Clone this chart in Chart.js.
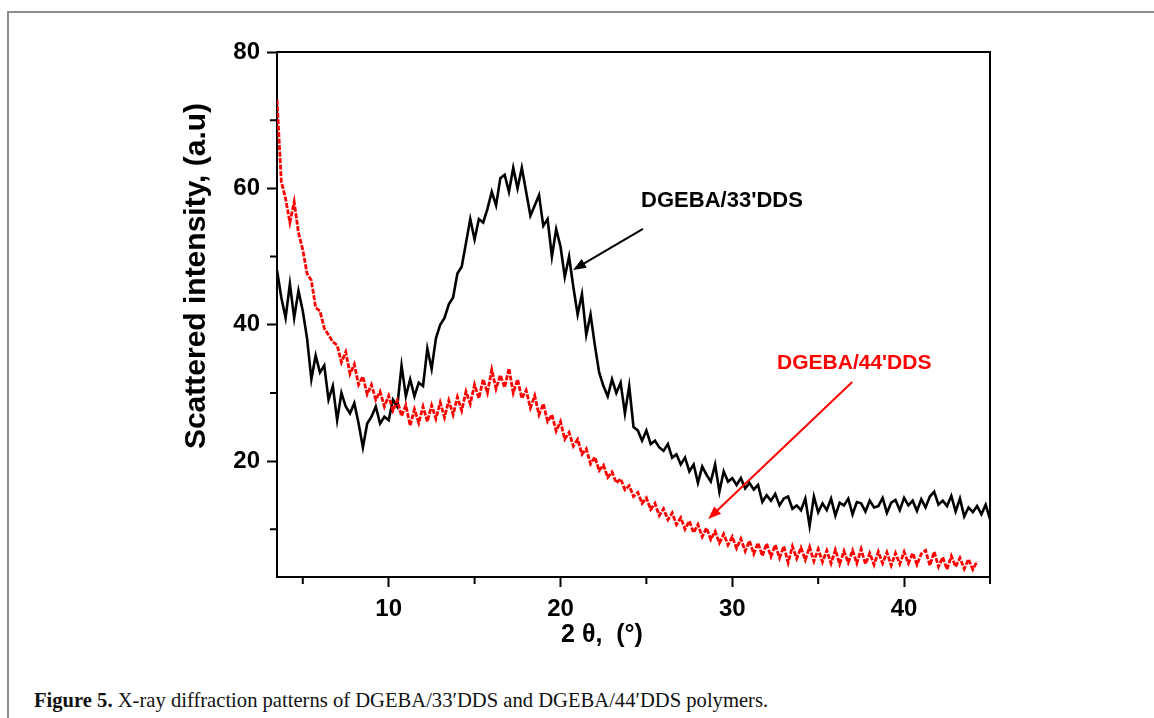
<!DOCTYPE html>
<html>
<head>
<meta charset="utf-8">
<title>XRD DGEBA/DDS</title>
<script src="https://cdn.jsdelivr.net/npm/chart.js@4.4.1/dist/chart.umd.min.js"></script>
<style>
  html, body { margin: 0; padding: 0; background: #fff; }
  body { width: 1154px; height: 718px; position: relative; overflow: hidden; }
  #frame { position: absolute; left: 7px; top: 11px; width: 1160px; height: 720px;
           border-left: 2px solid #8c8c8c; border-top: 2px solid #8c8c8c; }
  #wrap { position: absolute; left: 0; top: 0; width: 1154px; height: 660px; }
  #caption { position: absolute; left: 34px; top: 690px; font-family: "Liberation Serif", "DejaVu Serif", serif;
             font-size: 20.6px; line-height: 20px; color: #111; white-space: nowrap; }
  #caption b { font-weight: bold; }
</style>
</head>
<body>
<div id="frame"></div>
<div id="wrap"><canvas id="xrdChart" width="1154" height="660"></canvas></div>
<div id="caption"><b>Figure 5.</b> X-ray diffraction patterns of DGEBA/33′DDS and DGEBA/44′DDS polymers.</div>
<script>
// 2θ grid (degrees)
const angles = [
  3.5, 3.75, 4, 4.25, 4.5, 4.75, 5, 5.25,
  5.5, 5.75, 6, 6.25, 6.5, 6.75, 7, 7.25,
  7.5, 7.75, 8, 8.25, 8.5, 8.75, 9, 9.25,
  9.5, 9.75, 10, 10.25, 10.5, 10.75, 11, 11.25,
  11.5, 11.75, 12, 12.25, 12.5, 12.75, 13, 13.25,
  13.5, 13.75, 14, 14.25, 14.5, 14.75, 15, 15.25,
  15.5, 15.75, 16, 16.25, 16.5, 16.75, 17, 17.25,
  17.5, 17.75, 18, 18.25, 18.5, 18.75, 19, 19.25,
  19.5, 19.75, 20, 20.25, 20.5, 20.75, 21, 21.25,
  21.5, 21.75, 22, 22.25, 22.5, 22.75, 23, 23.25,
  23.5, 23.75, 24, 24.25, 24.5, 24.75, 25, 25.25,
  25.5, 25.75, 26, 26.25, 26.5, 26.75, 27, 27.25,
  27.5, 27.75, 28, 28.25, 28.5, 28.75, 29, 29.25,
  29.5, 29.75, 30, 30.25, 30.5, 30.75, 31, 31.25,
  31.5, 31.75, 32, 32.25, 32.5, 32.75, 33, 33.25,
  33.5, 33.75, 34, 34.25, 34.5, 34.75, 35, 35.25,
  35.5, 35.75, 36, 36.25, 36.5, 36.75, 37, 37.25,
  37.5, 37.75, 38, 38.25, 38.5, 38.75, 39, 39.25,
  39.5, 39.75, 40, 40.25, 40.5, 40.75, 41, 41.25,
  41.5, 41.75, 42, 42.25, 42.5, 42.75, 43, 43.25,
  43.5, 43.75, 44, 44.25, 44.5, 44.75, 45
];

// DGEBA/33'DDS scattered intensity (a.u)
const intensity33 = [
  48, 44, 41, 46, 41, 45, 42, 38,
  32, 35.5, 33, 34, 29, 31, 26, 30,
  28, 27, 28.5, 25.5, 22, 25.5, 26.5, 28,
  25.5, 26.5, 26, 29, 28, 34, 29.5, 32,
  29.5, 31.5, 31, 36.5, 33.5, 38, 40, 41,
  43, 44, 47.5, 48.5, 52, 55.5, 52.5, 55.5,
  55, 57, 59.5, 57.5, 61.5, 62, 59.5, 63,
  60, 63, 59.5, 56, 57.5, 59, 54.5, 55.5,
  50, 54, 51.5, 47, 50, 45.5, 41.5, 44.5,
  38.5, 41.5, 37, 33, 31, 29.5, 32, 30,
  31.5, 27, 31, 25, 24.5, 23, 24.5, 22.5,
  23, 22, 21.5, 22.5, 20.5, 21, 19.5, 20.5,
  18.5, 19.5, 16.8, 19.2, 18, 17, 19.5, 15.5,
  18.5, 17, 17.5, 16.5, 17.5, 16, 16.8, 15.8,
  16.5, 14, 15, 14.2, 15.2, 13.5, 14.5, 14.8,
  13, 13.5, 12.8, 14.5, 10.5, 14.8, 12.5, 13.8,
  12.8, 14.5, 12, 13.9, 13.5, 14.5, 12.2, 14,
  13.8, 12.6, 14.2, 13.2, 13.4, 14.6, 12.4, 13.9,
  14.3, 12.8, 14.6, 13.5, 14.2, 12.7, 14.4, 13.2,
  14.8, 15.5, 13.6, 14.2, 13.4, 14.9, 12.6, 14.5,
  11.9, 13.2, 12.5, 13.4, 12.2, 13.6, 11.5
];

// DGEBA/44'DDS scattered intensity (a.u)
const intensity44 = [
  73, 61, 58.5, 55, 58, 53.5, 51, 47.5,
  46.5, 42.5, 42, 39.5, 38.5, 37.5, 37, 34.5,
  36, 32.8, 34.2, 31.2, 32.4, 29.8, 31.2, 29,
  30.2, 28, 29.6, 27.4, 28.9, 26.6, 28.2, 25.2,
  27.6, 25.6, 28, 25.8, 28.2, 26.2, 28.6, 26.4,
  28.9, 26.8, 29.4, 27.4, 30.2, 28.4, 31.2, 29.2,
  32, 30, 33.4, 30.6, 32.6, 30.8, 33.6, 30,
  32, 29.2, 30.4, 27.8, 29.6, 26.8, 28.4, 25.8,
  26.8, 24.4, 25.8, 23.2, 24.2, 22.2, 23.2, 21,
  21.8, 19.6, 20.6, 18.6, 19.4, 17.6, 18.4, 16.8,
  17.4, 15.8, 16.4, 14.8, 15.4, 13.8, 14.6, 12.9,
  13.8, 12, 13, 11.4, 12.4, 10.7, 11.7, 10,
  11.2, 9.5, 10.7, 8.9, 10.2, 8.5, 9.7, 8,
  9.3, 7.7, 8.9, 7.2, 8.6, 6.8, 8.3, 6.4,
  8, 6.1, 7.9, 6, 7.7, 5.8, 7.5, 5.1,
  7.5, 5.7, 7.3, 5.5, 7.4, 5.3, 7.1, 5.2,
  6.9, 5, 7, 4.9, 6.8, 5.1, 6.9, 5,
  7.1, 4.9, 6.5, 4.8, 6.7, 5, 6.6, 4.7,
  6.5, 4.9, 6.7, 5, 6.5, 4.8, 6.4, 6.9,
  4.7, 6.7, 4.5, 5.9, 4.1, 6.1, 4.5, 5.8,
  4.2, 5.6, 4.1, 5.3, null, null, null
];

const xTickLabels = [10, 20, 30, 40];
const yTickLabels = [20, 40, 60, 80];

const tickFont = { family: 'Liberation Sans, Arial, sans-serif', size: 24, weight: 'bold' };

// Frame, minor ticks, axis titles and arrow labels
const decorations = {
    id: 'decorations',
    afterDraw(chart) {
        const { ctx, chartArea: a, scales: { x, y } } = chart;
        ctx.save();
        ctx.strokeStyle = '#000';
        ctx.lineWidth = 2;
        ctx.beginPath();
        ctx.moveTo(a.left, a.top);
        ctx.lineTo(a.right, a.top);
        ctx.lineTo(a.right, a.bottom);
        ctx.stroke();

        // minor ticks
        ctx.beginPath();
        x.ticks.forEach(t => {
            if (xTickLabels.includes(t.value)) return;
            const px = x.getPixelForValue(t.value);
            ctx.moveTo(px, a.bottom);
            ctx.lineTo(px, a.bottom + 7);
        });
        y.ticks.forEach(t => {
            if (yTickLabels.includes(t.value)) return;
            const py = y.getPixelForValue(t.value);
            ctx.moveTo(a.left, py);
            ctx.lineTo(a.left - 7, py);
        });
        ctx.stroke();

        // axis titles
        ctx.fillStyle = '#000';
        ctx.font = 'bold 30px "Liberation Sans", Arial, sans-serif';
        ctx.textAlign = 'center';
        ctx.textBaseline = 'alphabetic';
        ctx.save();
        ctx.translate(205, 276);
        ctx.rotate(-Math.PI / 2);
        ctx.fillText('Scattered intensity, (a.u)', 0, 0);
        ctx.restore();

        ctx.font = 'bold 25px "Liberation Sans", Arial, sans-serif';
        ctx.textBaseline = 'middle';
        ctx.fillText('2 \u03b8,  (\u00b0)', 602, 635);

        // arrow labels, placed in data coordinates
        const arrow = (x0, y0, x1, y1, color) => {
            const sx = x.getPixelForValue(x0), sy = y.getPixelForValue(y0);
            const ex = x.getPixelForValue(x1), ey = y.getPixelForValue(y1);
            const ang = Math.atan2(ey - sy, ex - sx);
            ctx.strokeStyle = color;
            ctx.fillStyle = color;
            ctx.lineWidth = 2;
            ctx.beginPath();
            ctx.moveTo(sx, sy);
            ctx.lineTo(ex - 8 * Math.cos(ang), ey - 8 * Math.sin(ang));
            ctx.stroke();
            ctx.beginPath();
            ctx.moveTo(ex, ey);
            ctx.lineTo(ex - 13 * Math.cos(ang) + 5 * Math.sin(ang), ey - 13 * Math.sin(ang) - 5 * Math.cos(ang));
            ctx.lineTo(ex - 13 * Math.cos(ang) - 5 * Math.sin(ang), ey - 13 * Math.sin(ang) + 5 * Math.cos(ang));
            ctx.closePath();
            ctx.fill();
        };

        ctx.textBaseline = 'middle';
        ctx.fillStyle = '#000';
        ctx.font = 'bold 22px "Liberation Sans", Arial, sans-serif';
        ctx.fillText("DGEBA/33'DDS", x.getPixelForValue(29.4), y.getPixelForValue(58.2));
        arrow(24.8, 54.05, 20.73, 48.04, '#000');

        ctx.fillStyle = '#f00';
        ctx.font = 'bold 21px "Liberation Sans", Arial, sans-serif';
        ctx.fillText("DGEBA/44'DDS", x.getPixelForValue(37.1), y.getPixelForValue(34.4));
        arrow(36.98, 31.6, 28.6, 11.5, '#f00');
        ctx.restore();
    }
};

const xrdCtx = document.getElementById('xrdChart').getContext('2d');

const xrdChart = new Chart(xrdCtx, {
    type: 'line',
    data: {
        datasets: [{
            label: "DGEBA/44'DDS",
            data: angles.map((a, i) => ({ x: a, y: intensity44[i] })),
            borderColor: '#ff0000',
            borderWidth: 2.8,
            borderDash: [5, 1.5],
            pointRadius: 0,
            tension: 0,
            order: 0
        }, {
            label: "DGEBA/33'DDS",
            data: angles.map((a, i) => ({ x: a, y: intensity33[i] })),
            borderColor: '#000000',
            borderWidth: 2.6,
            pointRadius: 0,
            tension: 0,
            order: 1
        }]
    },
    options: {
        responsive: false,
        animation: false,
        layout: { padding: { left: 150, top: 52, right: 164, bottom: 0 } },
        plugins: {
            legend: { display: false },
            tooltip: { enabled: false },
            title: { display: false }
        },
        scales: {
            x: {
                type: 'linear',
                min: 3.5,
                max: 45,
                afterFit: scale => { scale.height = 83; },
                border: { display: true, color: '#000', width: 2 },
                grid: {
                    drawOnChartArea: false,
                    drawTicks: true,
                    tickLength: 10,
                    tickWidth: 2,
                    tickColor: c => xTickLabels.includes(c.tick && c.tick.value) ? '#000' : 'rgba(0,0,0,0)'
                },
                ticks: {
                    stepSize: 5,
                    includeBounds: false,
                    autoSkip: false,
                    maxRotation: 0,
                    padding: 8,
                    color: '#000',
                    font: tickFont,
                    callback: v => xTickLabels.includes(v) ? String(v) : ''
                }
            },
            y: {
                type: 'linear',
                min: 3,
                max: 80,
                afterFit: scale => { scale.width = 127; },
                border: { display: true, color: '#000', width: 2 },
                grid: {
                    drawOnChartArea: false,
                    drawTicks: true,
                    tickLength: 10,
                    tickWidth: 2,
                    tickColor: c => yTickLabels.includes(c.tick && c.tick.value) ? '#000' : 'rgba(0,0,0,0)'
                },
                ticks: {
                    stepSize: 10,
                    includeBounds: false,
                    autoSkip: false,
                    padding: 7,
                    color: '#000',
                    font: tickFont,
                    callback: v => yTickLabels.includes(v) ? String(v) : ''
                }
            }
        }
    },
    plugins: [decorations]
});
</script>
</body>
</html>
